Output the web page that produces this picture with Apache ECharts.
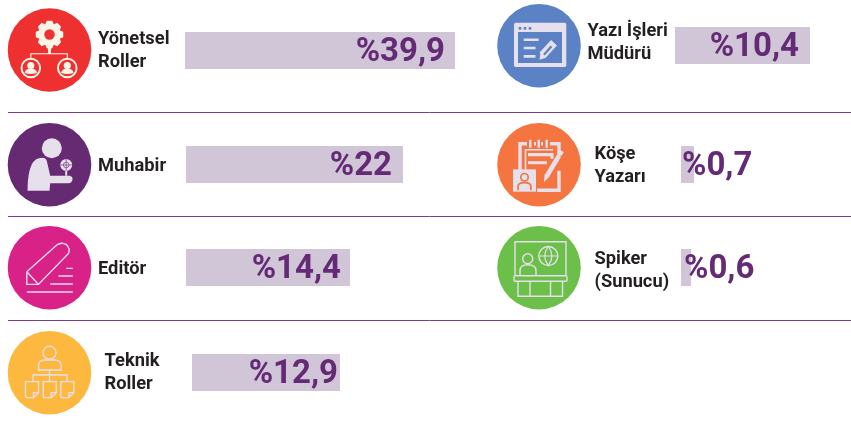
<!DOCTYPE html>
<html lang="tr">
<head>
    <meta charset="UTF-8">
    <title>Roller</title>
    <script src="https://cdn.jsdelivr.net/npm/echarts@6/dist/echarts.min.js"></script>
    <style>
        html, body { margin: 0; padding: 0; background: #fff; }
        #chart { width: 851px; height: 423px; }
    </style>
</head>
<body>
    <div id="chart"></div>
    <script>
        var categories = ['Yönetsel\nRoller', 'Muhabir', 'Editör', 'Teknik\nRoller', 'Yazı İşleri\nMüdürü', 'Köşe\nYazarı', 'Spiker\n(Sunucu)'];
        var values = [39.9, 22, 14.4, 12.9, 10.4, 0.7, 0.6];
        var circleColors = ['#ef3030', '#652a72', '#d92288', '#fdb93f', '#5b82c4', '#f47540', '#6cc04a'];
        var iconNames = ['gear', 'reporter', 'pen', 'tree', 'window', 'clipboard', 'desk'];

        // bar box in pixels: each bar has its own scale in the original
        var barLeft = [185, 186, 186, 192, 675, 681, 681];
        var barTop = [32, 146, 249, 354, 27, 146, 249];
        var barPx = [270, 217, 164, 148, 135, 13, 10];
        var labelInset = [10, 11, 9, 2, 11, null, null];
        var labelLeft = [null, null, null, null, null, 1, 3];
        var circleX = [49.5, 49.5, 49.5, 49.5, 539, 539, 539];
        var circleY = [50, 164.7, 267.7, 372.7, 45.7, 164.7, 267.7];
        var textX = [98, 98, 98, 104.5, 587.5, 594.5, 594.5];
        var textY = [51, 166, 269, 373, 43, 166, 271];
        var separators = [112.5, 216.5, 320.5];

        var light = '#e6dfec';

        function ring(x, y, r) {
            return 'M' + (x - r) + ' ' + y + 'A' + r + ' ' + r + ' 0 1 0 ' + (x + r) + ' ' + y + 'A' + r + ' ' + r + ' 0 1 0 ' + (x - r) + ' ' + y + 'Z';
        }

        function gearPath(x, y, rOut, rIn, teeth) {
            var pts = [];
            for (var i = 0; i < teeth; i++) {
                var a = i * 2 * Math.PI / teeth;
                var w = Math.PI / teeth;
                [[rIn, -w * 0.95], [rOut, -w * 0.5], [rOut, w * 0.5], [rIn, w * 0.95]].forEach(function (p) {
                    pts.push((x + p[0] * Math.cos(a + p[1])).toFixed(2) + ' ' + (y + p[0] * Math.sin(a + p[1])).toFixed(2));
                });
            }
            return 'M' + pts.join('L') + 'Z';
        }

        // the graphic component has no plain 'path' type, so each svg path gets its own shape
        var shapeCount = 0;
        function svgShape(d) {
            var name = 'iconPath' + (shapeCount++);
            echarts.graphic.registerShape(name, echarts.graphic.extendPath(d, {}));
            return name;
        }
        function fillP(d, color) {
            return { type: svgShape(d), style: { fill: color || light, stroke: 'none' } };
        }
        function lineP(d, width, color) {
            return { type: svgShape(d), style: { fill: 'none', stroke: color || light, lineWidth: width || 1.5 } };
        }

        var icons = {
            gear: function (bg) {
                var cream = '#faf5e6';
                return [
                    fillP(gearPath(0, -15.5, 14, 11.3, 8), cream),
                    fillP(ring(0, -15.5, 5.2), bg),
                    fillP('M-2 -5L2 -5L1.2 4L-1.2 4Z', cream),
                    lineP('M-18.7 9L-18.7 3.7L17.8 3.7L17.8 9', 1.1, cream),
                    lineP(ring(-18.7, 18, 9.3), 1.9, cream),
                    lineP(ring(17.8, 18, 9.3), 1.9, cream),
                    fillP(ring(-18.7, 15.5, 3.6), cream),
                    fillP(ring(17.8, 15.5, 3.6), cream),
                    fillP('M-25 23Q-24 18.5 -18.7 18.5Q-13 18.5 -12.5 23Q-18.7 25 -25 23Z', cream),
                    fillP('M11.5 23Q12.5 18.5 17.8 18.5Q23.5 18.5 24 23Q17.8 25 11.5 23Z', cream)
                ];
            },
            reporter: function (bg) {
                return [
                    fillP(ring(2.3, -16.5, 10)),
                    fillP('M-22 26Q-22 8 -17.5 -1Q-14 -7 -7.5 -7Q-3 -7 -2.5 -3L0.7 11L20.5 11Q23.5 12 23 15Q22 18.5 19 18.5L0.7 18.5L0 26Z'),
                    fillP(ring(16.7, 0.3, 6)),
                    lineP(ring(16.7, 0.3, 2.8) + 'M10.7 0.3L22.7 0.3M16.7 -5.7L16.7 6.3', 0.6, bg),
                    lineP('M16.7 6L16.7 11', 2)
                ];
            },
            pen: function () {
                return [
                    lineP('M-22.7 16.7L-22.7 4L7.3 -22.7Q12 -26 17 -23Q21 -19 19 -14.3L-11 16.7Z', 1.4),
                    lineP('M-22.7 4L-11 16.7', 1.4),
                    lineP('M16.7 0.7L23.3 0.7M9 8.3L23.3 8.3M0.7 16.3L23.3 16.3M-22.7 24.3L23.3 24.3', 1.4)
                ];
            },
            tree: function () {
                function doc(x) {
                    return 'M' + x + ' 9L' + (x + 13) + ' 9L' + (x + 13) + ' 20L' + (x + 8) + ' 25L' + (x + 2) + ' 25Q' + x + ' 25 ' + x + ' 23Z' +
                        'M' + (x + 8) + ' 25L' + (x + 8) + ' 20L' + (x + 13) + ' 20';
                }
                return [
                    lineP(ring(0, -20, 6.5), 1.3),
                    lineP('M-11 -2.7L-11 -7Q-11 -12.7 -5 -12.7L5 -12.7Q11.7 -12.7 11.7 -7L11.7 -2.7Z', 1.3),
                    lineP('M0 -2.7L0 9M-16.5 9L-16.5 2.3L17.5 2.3L17.5 9', 1.3),
                    lineP(doc(-24) + doc(-6.3) + doc(11.3), 1.3)
                ];
            },
            window: function (bg) {
                return [
                    fillP('M-23.5 -23L25.5 -23Q27.3 -23 27.3 -21L27.3 19.5Q27.3 21.3 25.5 21.3L-23.5 21.3Q-25 21.3 -25 19.5L-25 -21Q-25 -23 -23.5 -23Z'),
                    fillP('M-21 -13.7L23 -13.7L23 17.3L-21 17.3Z', bg),
                    fillP(ring(-19, -17.5, 1.5) + ring(-14, -17.5, 1.5) + ring(-9, -17.5, 1.5), bg),
                    lineP('M-15.3 -6L-0.3 -6M-15.3 2.3L-3.5 2.3M-15.3 10.7L-3.5 10.7', 2.6),
                    lineP('M3.5 9.5L15 -3', 8),
                    lineP('M5 9L12.5 0.5', 2.2, bg),
                    fillP('M0.5 14L1.5 7L7 12Z')
                ];
            },
            clipboard: function (bg) {
                return [
                    lineP('M-19 6L-19 -21L-12 -21M-5 -21L-3 -21M2 -21L4 -21M11 -21L20 -21L20 -8M20 6L20 25.5L-2 25.5', 3.4),
                    lineP('M-13.5 6L-13.5 -15L14 -15', 1.6),
                    lineP('M-11 -10L13 -10L13 -6', 3.2),
                    lineP('M-11 -2L8 -2', 3),
                    lineP('M-8.7 -25L-8.7 -17M-0.3 -25L-0.3 -17M7.7 -25L7.7 -17', 2.4),
                    fillP('M-26 4.7L-3 4.7L-3 27L-26 27Z'),
                    lineP(ring(-14.5, 12.5, 3.7), 1.7, bg),
                    lineP('M-21 25.5L-21 22Q-21 18 -14.5 18Q-8 18 -8 22L-8 25.5', 1.7, bg),
                    lineP('M8 11L20 -9', 4.6),
                    lineP('M20.8 -10L23 -13.5', 4.2),
                    fillP('M4.8 17.5L5.8 9L10.5 12Z')
                ];
            },
            desk: function () {
                return [
                    lineP('M-24 8L-24 -26L27 -26L27 8', 1.4),
                    lineP(ring(9.3, -11.7, 9.5), 1.4),
                    lineP('M-0.2 -11.7L18.8 -11.7M9.3 -21.2Q2 -11.7 9.3 -2.2Q16.6 -11.7 9.3 -21.2Z', 1.2),
                    lineP(ring(-11.3, -9, 5), 1.4),
                    lineP('M-19 8L-19 3Q-19 -3 -11.3 -3Q-3 -3 -3 3L-3 8', 1.4),
                    lineP('M-24 8L27 8Q28 8 28 10L28 12Q28 13.5 27 13.5L-24 13.5Q-25 13.5 -25 12L-25 10Q-25 8 -24 8Z', 1.4),
                    lineP('M-21 13.5L-21 28.5L23.5 28.5L23.5 13.5M-9 13.5L-9 28.5M11.5 13.5L11.5 28.5', 1.4)
                ];
            }
        };

        var grids = [], xAxes = [], yAxes = [], series = [], graphics = [];

        values.forEach(function (v, i) {
            grids.push({ left: barLeft[i], top: barTop[i], width: barPx[i], height: 37, containLabel: false });
            xAxes.push({ type: 'value', gridIndex: i, min: 0, max: v, show: false });
            yAxes.push({ type: 'category', gridIndex: i, data: [categories[i]], show: false });
            var small = labelInset[i] == null;
            series.push({
                type: 'bar',
                xAxisIndex: i,
                yAxisIndex: i,
                data: [v],
                barWidth: '100%',
                silent: true,
                itemStyle: { color: '#d0c6d8' },
                label: {
                    show: true,
                    position: small ? 'insideLeft' : 'insideRight',
                    distance: small ? labelLeft[i] : labelInset[i],
                    offset: [0, 2],
                    formatter: '%' + String(v).replace('.', ','),
                    fontFamily: 'Roboto',
                    fontWeight: 700,
                    fontSize: 33,
                    color: '#652a75'
                }
            });

            graphics.push({
                type: 'circle',
                shape: { cx: circleX[i], cy: circleY[i], r: 41.8 },
                style: { fill: circleColors[i] }
            });
            graphics.push({
                type: 'group',
                x: circleX[i],
                y: circleY[i],
                children: icons[iconNames[i]](circleColors[i])
            });
            graphics.push({
                type: 'text',
                x: textX[i],
                y: textY[i],
                style: {
                    text: categories[i],
                    fill: '#231f20',
                    font: '700 18.3px Roboto',
                    lineHeight: 23,
                    verticalAlign: 'middle',
                    align: 'left'
                }
            });
        });

        separators.forEach(function (y) {
            graphics.push({
                type: 'line',
                shape: { x1: 8, y1: y, x2: 851, y2: y },
                style: { stroke: '#7b3a8c', lineWidth: 1 }
            });
        });

        var myChart = echarts.init(document.getElementById('chart'));
        myChart.setOption({
            animation: false,
            backgroundColor: '#fff',
            grid: grids,
            xAxis: xAxes,
            yAxis: yAxes,
            series: series,
            graphic: graphics
        });
    </script>
</body>
</html>
